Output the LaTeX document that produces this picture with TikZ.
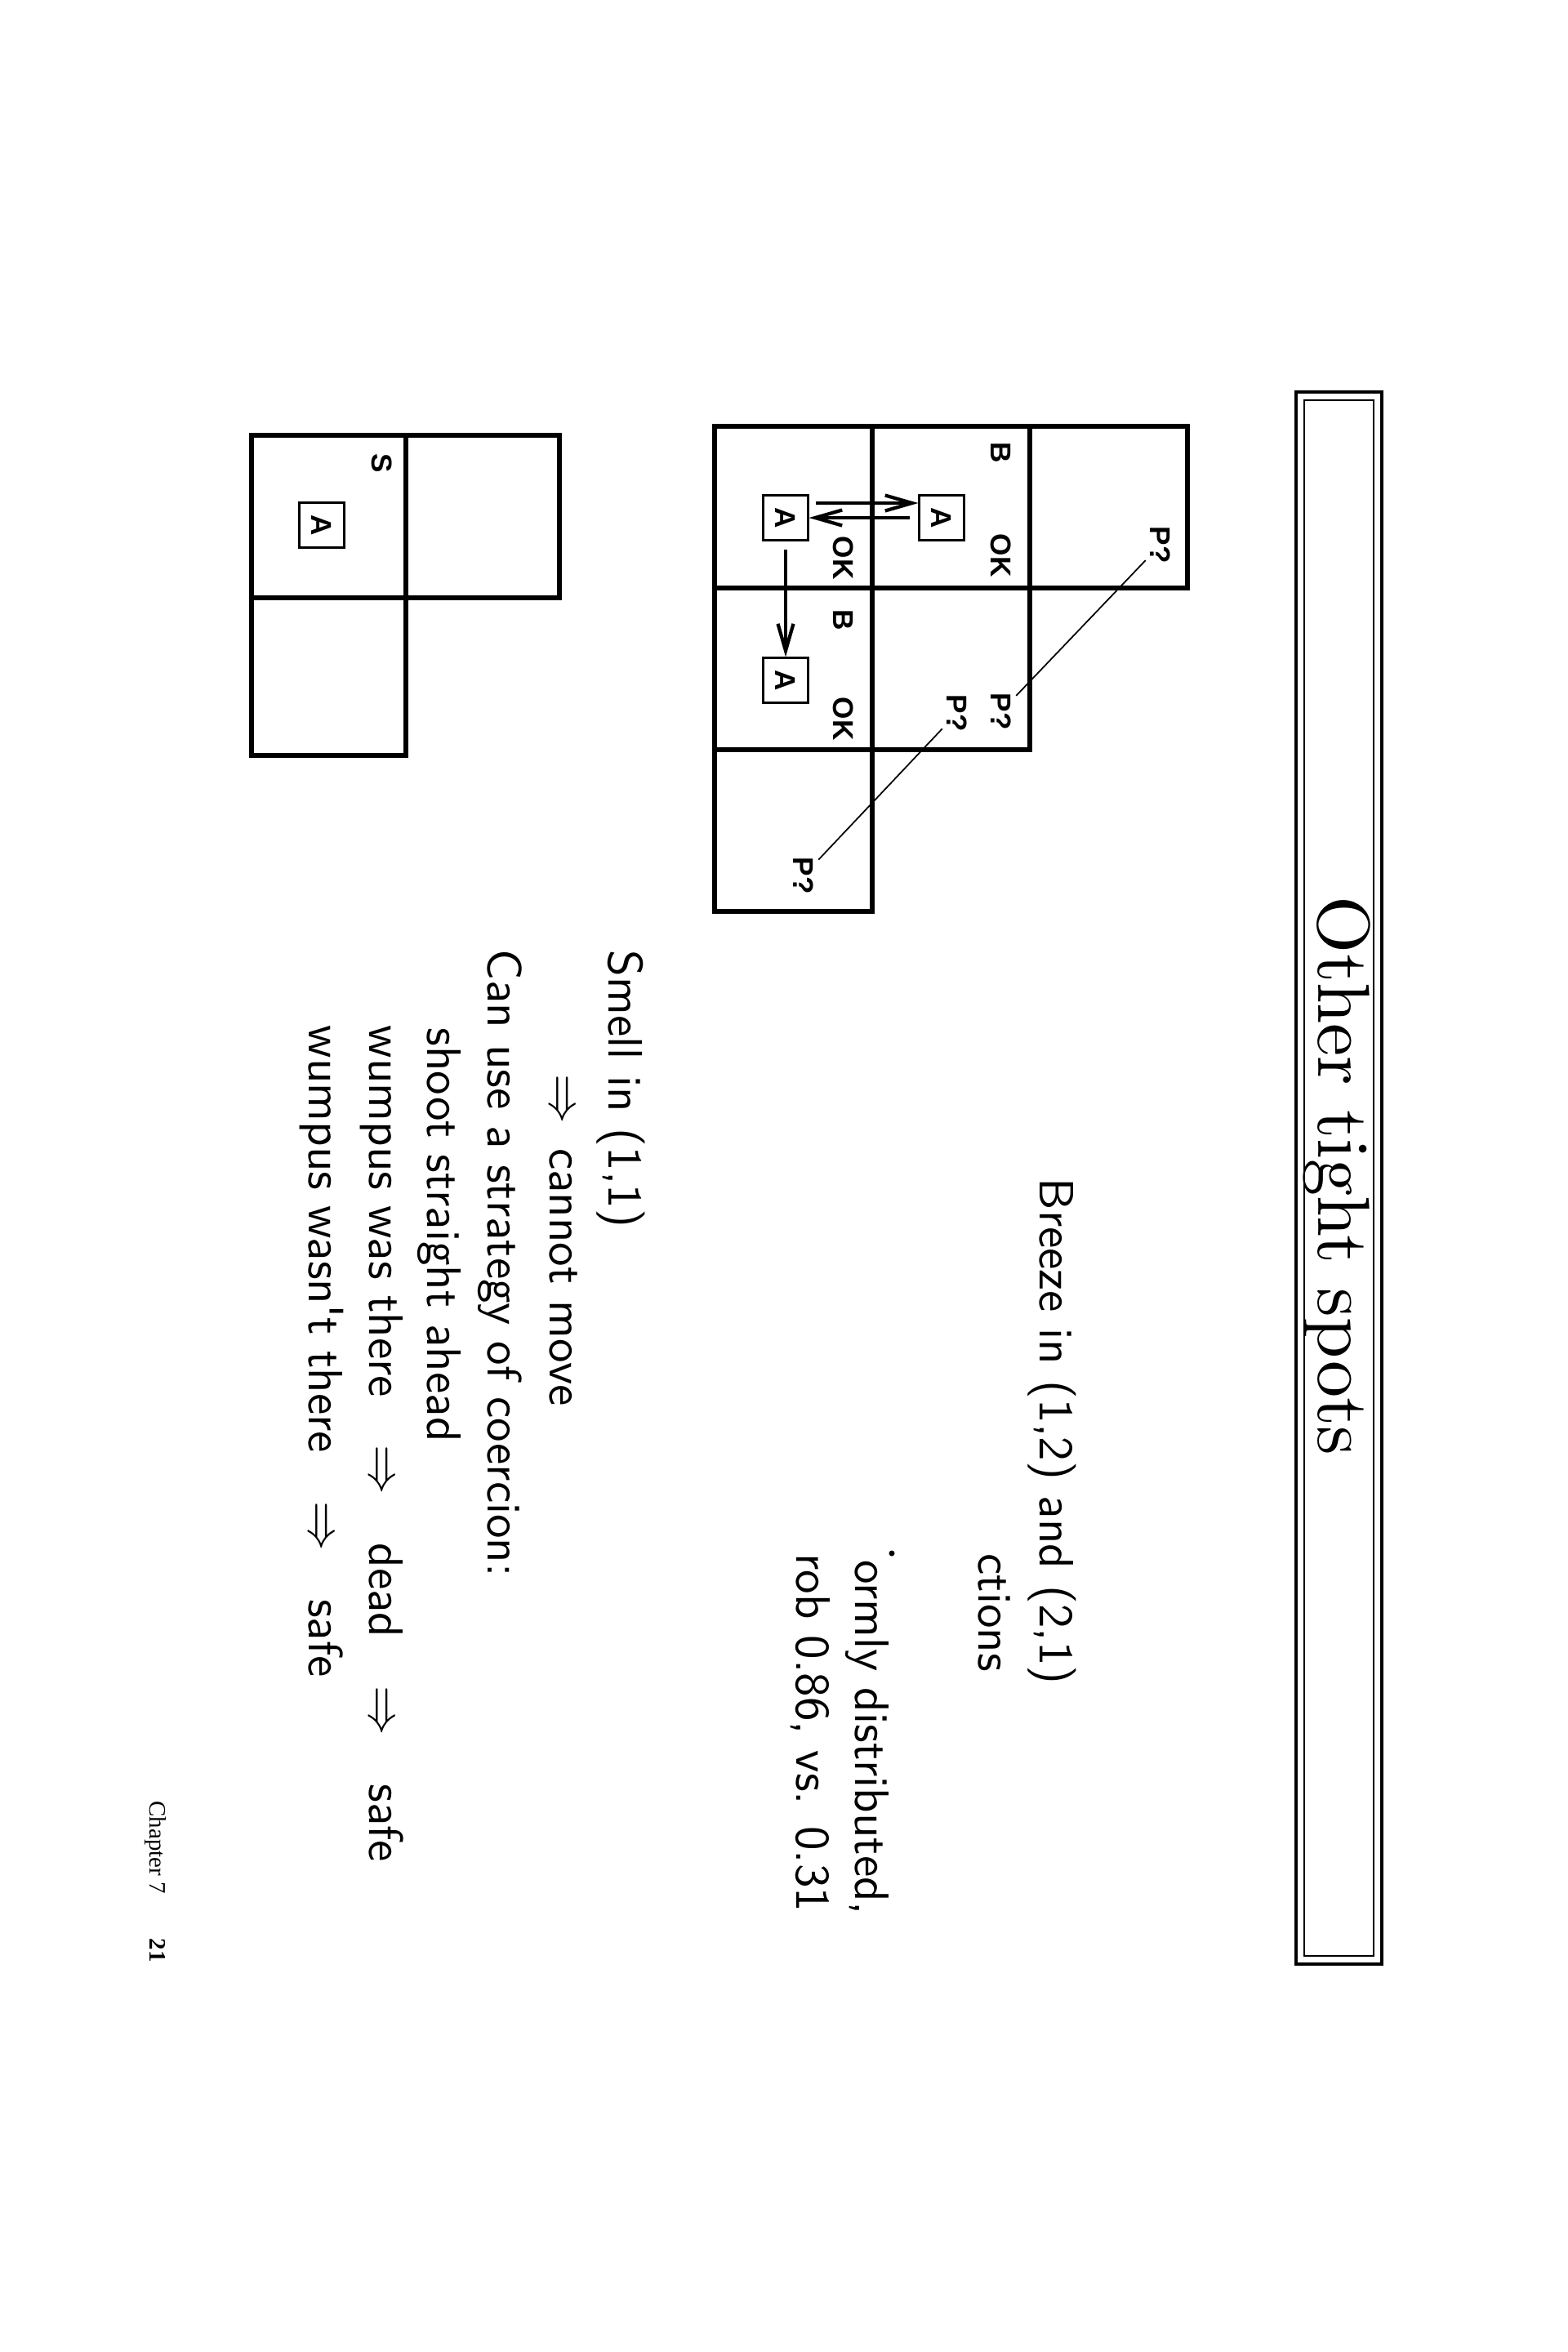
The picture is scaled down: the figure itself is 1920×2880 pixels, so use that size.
\documentclass[tikz,border=0pt]{standalone}
\usepackage{fontspec}
\newfontfamily\footfont{Liberation Serif}
\newfontfamily\labelfont{Liberation Sans}
\newfontfamily\bodyfont{lmsans10-regular.otf}
\newfontfamily\titlefont{lmroman10-regular.otf}
\usepackage{tikz}
\usetikzlibrary{positioning,arrows.meta,calc}

\tikzset{
  vert/.style={rotate=-90, inner sep=1.5pt},
  body/.style={vert, inner sep=0pt, anchor=base west, font=\bodyfont\fontsize{16.8}{20}\selectfont},
  lbl/.style={vert, font=\labelfont\bfseries\fontsize{10}{12}\selectfont},
  agent/.style={lbl, draw, line width=0.6pt, minimum size=0.55cm},
  cellline/.style={line width=1.7pt},
  move/.style={-{Straight Barb[length=3.3mm,width=1.9mm,line width=1.2pt]}, line width=1.3pt},
}

\begin{document}
\begin{tikzpicture}[x=0.01cm, y=-0.01cm]
    \useasboundingbox (0,0) rectangle (1920,2880);
    \fill[white] (0,0) rectangle (1920,2880);

    % title bar
    \draw[line width=1.1pt] (1587,480) rectangle (1692,2405);
    \draw[line width=0.8pt] (1597,490) rectangle (1682,2395);
    \node[vert, anchor=base, inner sep=0pt, font=\titlefont\fontsize{25.7}{30}\selectfont] (title) at (1614,1440) {Other tight spots};

    % pit grid
    \draw[cellline] (875,522) rectangle (1068,1116);
    \draw[cellline] (1068,522) rectangle (1261,918);
    \draw[cellline] (1261,522) rectangle (1454,720);
    \draw[cellline] (875,720) -- (1261,720);
    \draw[cellline] (875,918) -- (1068,918);

    \node[agent] (a11) at (962,634) {A};
    \node[agent] (a12) at (1153,634) {A};
    \node[agent] (a21) at (962,833) {A};
    \node[lbl] (ok11) at (1033,683) {OK};
    \node[lbl] (b21) at (1033,759) {B};
    \node[lbl] (ok21) at (1033,880) {OK};
    \node[lbl] (b12) at (1226,554) {B};
    \node[lbl] (ok12) at (1226,680) {OK};
    \node[lbl] (p13) at (1421,667) {P?};
    \node[lbl] (p22a) at (1226,871) {P?};
    \node[lbl] (p22b) at (1172,873) {P?};
    \node[lbl] (p31) at (984,1072) {P?};

    \draw[move, shorten <=0.8mm] ([yshift=1.8mm]a11.north) -- ([yshift=1.8mm]a12.south);
    \draw[move, shorten <=1mm] (a12.south) -- (a11.north);
    \draw[move, shorten <=1mm] (a11) -- (a21);
    \draw[line width=0.5pt] (p13) -- (p22a);
    \draw[line width=0.5pt] (p22b) -- (p31);

    % smell grid
    \draw[cellline] (308,533) rectangle (497,925);
    \draw[cellline] (497,533) rectangle (685,732);
    \draw[cellline] (308,732) -- (497,732);
    \node[agent] (sa11) at (394,643) {A};
    \node[lbl] (s11) at (468,567) {S};

    % text
    \node[body] (breeze) at (1273,1442) {Breeze in (1,2) and (2,1)};
    \node[body] (ctions) at (1198,1902) {ctions};
    \node[body] (ormly) at (1047,1910) {ormly distributed,};
    \fill (1092,1902) circle[radius=0.035cm];
    \node[body] (prob) at (975,1902) {rob 0.86, vs. 0.31};

    \node[body] (smell) at (745,1163) {Smell in (1,1)};
    \node[body] (cannot) at (673,1315) {$\Rightarrow$\enspace cannot move};
    \node[body] (coerce) at (597,1162) {Can use a strategy of coercion:};
    \node[body] (shoot) at (523,1258) {shoot straight ahead};
    \node[body] (was) at (452,1255) {wumpus was there\quad$\Rightarrow$\quad dead\quad$\Rightarrow$\quad safe};
    \node[body] (wasnt) at (378,1255) {wumpus wasn't there\quad$\Rightarrow$\quad safe};

    % footer
    \node[vert, inner sep=0pt, anchor=base west, font=\footfont\fontsize{8.2}{10}\selectfont] (chap) at (183,2205) {Chapter 7};
    \node[vert, inner sep=0pt, anchor=base west, font=\footfont\bfseries\fontsize{8.2}{10}\selectfont] (page) at (183,2373) {21};
\end{tikzpicture}
\end{document}
